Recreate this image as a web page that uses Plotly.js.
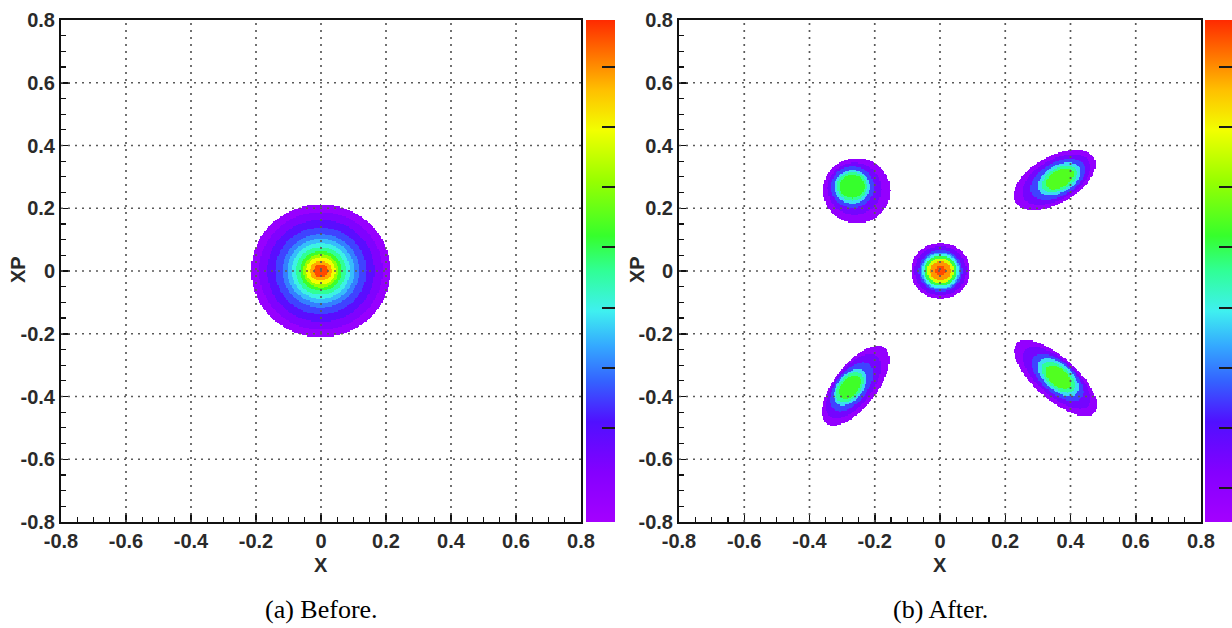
<!DOCTYPE html>
<html><head><meta charset="utf-8">
<script src="https://cdn.plot.ly/plotly-3.0.1.min.js"></script>
<style>html,body{margin:0;padding:0;background:#fff;} #chart{width:1232px;height:628px;}</style>
</head><body><div id="chart"></div>
<script>
// ---------- axis / tick data ----------
const tickValues = [-0.8, -0.6, -0.4, -0.2, 0, 0.2, 0.4, 0.6, 0.8];
const tickLabels = ['-0.8', '-0.6', '-0.4', '-0.2', '0', '0.2', '0.4', '0.6', '0.8'];
const gridValues = [-0.6, -0.4, -0.2, 0, 0.2, 0.4, 0.6];
const colorbarTicksLeft = [0.187, 0.307, 0.427, 0.547, 0.667, 0.787, 0.907];
const colorbarTicksRight = [0.068, 0.187, 0.307, 0.427, 0.547, 0.667, 0.787, 0.907];
const axisTitles = ['X', 'XP'];
const captions = ['(a) Before.', '(b) After.'];

// ---------- density rings (outer -> inner) ----------
// (a) Before: one round beam at the origin
const beforeCx    = [0, 0, 0, 0, 0, 0, 0, 0, 0, 0, 0, 0, 0];
const beforeCy    = [0, 0, 0, 0, 0, 0, 0, 0, 0, 0, 0, 0, 0];
const beforeA     = [0.214, 0.19, 0.165, 0.14, 0.118, 0.103, 0.09, 0.077, 0.064, 0.054, 0.045, 0.033, 0.021];
const beforeB     = [0.212, 0.188, 0.163, 0.138, 0.117, 0.102, 0.089, 0.076, 0.063, 0.053, 0.044, 0.032, 0.02];
const beforeLevel = [0.04, 0.11, 0.18, 0.25, 0.31, 0.37, 0.43, 0.5, 0.58, 0.68, 0.78, 0.88, 0.97];
const beforeAngle = 0;

// (b) After: central core
const coreCx    = [0.002, 0.002, 0.002, 0.002, 0.002, 0.002, 0.002, 0.002, 0.002];
const coreCy    = [0, 0, 0, 0, 0, 0, 0, 0, 0];
const coreA     = [0.09, 0.079, 0.067, 0.061, 0.056, 0.049, 0.041, 0.031, 0.016];
const coreB     = [0.089, 0.078, 0.066, 0.06, 0.055, 0.048, 0.04, 0.03, 0.016];
const coreLevel = [0.05, 0.14, 0.25, 0.34, 0.42, 0.55, 0.75, 0.9, 0.97];
const coreAngle = 0;

// (b) After: upper-left island
const ulCx    = [-0.255, -0.262, -0.268, -0.269, -0.269, -0.269];
const ulCy    = [0.256, 0.262, 0.267, 0.268, 0.269, 0.269];
const ulA     = [0.103, 0.082, 0.066, 0.054, 0.046, 0.038];
const ulB     = [0.104, 0.083, 0.066, 0.053, 0.045, 0.037];
const ulLevel = [0.05, 0.13, 0.25, 0.4, 0.5, 0.57];
const ulAngle = 10;

// (b) After: lower-left island
const llCx    = [-0.258, -0.265, -0.271, -0.275, -0.276, -0.276];
const llCy    = [-0.366, -0.368, -0.37, -0.371, -0.371, -0.371];
const llA     = [0.15, 0.12, 0.09, 0.066, 0.055, 0.043];
const llB     = [0.066, 0.057, 0.048, 0.039, 0.033, 0.026];
const llLevel = [0.05, 0.13, 0.25, 0.4, 0.5, 0.58];
const llAngle = 54;

// (b) After: upper-right island
const urCx    = [0.352, 0.357, 0.362, 0.366, 0.367, 0.368];
const urCy    = [0.29, 0.291, 0.292, 0.293, 0.293, 0.293];
const urA     = [0.14, 0.116, 0.092, 0.072, 0.059, 0.047];
const urB     = [0.074, 0.063, 0.053, 0.043, 0.035, 0.027];
const urLevel = [0.05, 0.13, 0.25, 0.4, 0.5, 0.6];
const urAngle = 31;

// (b) After: lower-right island
const lrCx    = [0.355, 0.358, 0.361, 0.363, 0.363, 0.363];
const lrCy    = [-0.342, -0.341, -0.34, -0.339, -0.339, -0.339];
const lrA     = [0.163, 0.132, 0.098, 0.077, 0.062, 0.047];
const lrB     = [0.066, 0.057, 0.049, 0.041, 0.034, 0.027];
const lrLevel = [0.05, 0.13, 0.25, 0.4, 0.5, 0.6];
const lrAngle = -43;

// ---------- palette (ROOT-like rainbow) ----------
const palette = [
  [0.00, '#a400ff'], [0.10, '#8400ff'], [0.20, '#5010ff'], [0.28, '#3462ff'],
  [0.35, '#34a8ff'], [0.42, '#3ff0f0'], [0.50, '#30ff96'], [0.57, '#36ff2c'],
  [0.68, '#98ff00'], [0.78, '#f2ff00'], [0.86, '#ffc000'], [0.93, '#ff7400'],
  [1.00, '#ff2a00']
];

// ---------- build the density tables ----------
function mkBlob(cx, cy, a, b, lev, ang) { return {cx, cy, a, b, lev, ang: ang * Math.PI / 180}; }
const beforeBlobs = [mkBlob(beforeCx, beforeCy, beforeA, beforeB, beforeLevel, beforeAngle)];
const afterBlobs = [
  mkBlob(coreCx, coreCy, coreA, coreB, coreLevel, coreAngle),
  mkBlob(ulCx, ulCy, ulA, ulB, ulLevel, ulAngle),
  mkBlob(llCx, llCy, llA, llB, llLevel, llAngle),
  mkBlob(urCx, urCy, urA, urB, urLevel, urAngle),
  mkBlob(lrCx, lrCy, lrA, lrB, lrLevel, lrAngle)
];
const cellSize = 0.004;
const axisCells = [];
for (let i = 0; i <= 400; i++) axisCells.push(-0.8 + i * cellSize);

function table(blobs) {
  const z = [];
  for (const y of axisCells) {
    const row = [];
    for (const x of axisCells) {
      let best = null;
      for (const bl of blobs) {
        const c = Math.cos(bl.ang), s = Math.sin(bl.ang);
        for (let k = 0; k < bl.a.length; k++) {
          const dx = x - bl.cx[k], dy = y - bl.cy[k];
          const u = dx * c + dy * s, v = -dx * s + dy * c;
          if ((u * u) / (bl.a[k] * bl.a[k]) + (v * v) / (bl.b[k] * bl.b[k]) <= 1) {
            if (best === null || bl.lev[k] > best) best = bl.lev[k];
          }
        }
      }
      row.push(best);
    }
    z.push(row);
  }
  return z;
}

const traces = [
  {type: 'heatmap', x: axisCells, y: axisCells, z: table(beforeBlobs), coloraxis: 'coloraxis',
   zsmooth: false, hoverinfo: 'skip', xaxis: 'x', yaxis: 'y'},
  {type: 'heatmap', x: axisCells, y: axisCells, z: table(afterBlobs), coloraxis: 'coloraxis2',
   zsmooth: false, hoverinfo: 'skip', xaxis: 'x2', yaxis: 'y2'}
];

// ---------- layout ----------
const W = 1232, H = 628;
const yDom = [(H - 522) / H, (H - 20) / H];
const leftDom = [61 / W, 581 / W];
const rightDom = [679 / W, 1201 / W];
const tickFont = {family: 'Liberation Sans, Arial, sans-serif', size: 20, color: '#2a2a2a'};
const boldTicks = tickLabels.map(t => '<b>' + t + '</b>');

function axis(dom, anchor) {
  return {
    domain: dom, anchor: anchor, range: [-0.8, 0.8], autorange: false,
    tickmode: 'array', tickvals: tickValues, ticktext: boldTicks,
    ticks: 'inside', ticklen: 9, tickwidth: 1.5, tickcolor: '#111',
    minor: {ticks: 'inside', ticklen: 5, tickwidth: 1.2, tickcolor: '#111', dtick: 0.05, tick0: 0, showgrid: false},
    showline: true, linecolor: '#111', linewidth: 2, mirror: true,
    showgrid: false, zeroline: false, layer: 'above traces',
    tickfont: tickFont, fixedrange: true, automargin: false
  };
}

function colorbar(x, thick, tv) {
  return {
    x: x, xanchor: 'left', xref: 'paper', y: yDom[0], yanchor: 'bottom', yref: 'paper',
    len: yDom[1] - yDom[0], lenmode: 'fraction', thickness: thick, thicknessmode: 'pixels',
    xpad: 0, ypad: 0, outlinewidth: 0, ticks: 'inside', ticklen: 13, tickwidth: 2,
    tickcolor: '#1a1a1a', tickmode: 'array', tickvals: tv, showticklabels: false
  };
}

const shapes = [];
[['x', 'y'], ['x2', 'y2']].forEach(([xr, yr]) => {
  gridValues.forEach(g => {
    shapes.push({type: 'line', xref: xr, yref: yr, x0: g, x1: g, y0: -0.8, y1: 0.8, layer: 'above',
      line: {color: '#5a5a5a', width: 1.7, dash: '2px,5px'}});
    shapes.push({type: 'line', xref: xr, yref: yr, x0: -0.8, x1: 0.8, y0: g, y1: g, layer: 'above',
      line: {color: '#5a5a5a', width: 1.7, dash: '2px,5px'}});
  });
});

const titleFont = {family: 'Liberation Sans, Arial, sans-serif', size: 20, color: '#2a2a2a'};
const capFont = {family: 'Liberation Serif, Times New Roman, serif', size: 26, color: '#000'};
function bold(t) { return '<b>' + t + '</b>'; }
const annotations = [
  {text: bold(axisTitles[0]), xref: 'paper', yref: 'paper', x: 321 / W, y: (H - 565) / H, showarrow: false, font: titleFont, xanchor: 'center', yanchor: 'middle'},
  {text: bold(axisTitles[0]), xref: 'paper', yref: 'paper', x: 940 / W, y: (H - 565) / H, showarrow: false, font: titleFont, xanchor: 'center', yanchor: 'middle'},
  {text: bold(axisTitles[1]), xref: 'paper', yref: 'paper', x: 18 / W, y: (H - 270) / H, textangle: -90, showarrow: false, font: titleFont, xanchor: 'center', yanchor: 'middle'},
  {text: bold(axisTitles[1]), xref: 'paper', yref: 'paper', x: 637 / W, y: (H - 270) / H, textangle: -90, showarrow: false, font: titleFont, xanchor: 'center', yanchor: 'middle'},
  {text: captions[0], xref: 'paper', yref: 'paper', x: 321 / W, y: (H - 609) / H, showarrow: false, font: capFont, xanchor: 'center', yanchor: 'middle'},
  {text: captions[1], xref: 'paper', yref: 'paper', x: 940 / W, y: (H - 609) / H, showarrow: false, font: capFont, xanchor: 'center', yanchor: 'middle'}
];

const layout = {
  width: W, height: H, margin: {l: 0, r: 0, t: 0, b: 0, autoexpand: false},
  paper_bgcolor: '#fff', plot_bgcolor: '#fff', showlegend: false,
  xaxis: axis(leftDom, 'y'), yaxis: axis(yDom, 'x'),
  xaxis2: axis(rightDom, 'y2'), yaxis2: axis(yDom, 'x2'),
  coloraxis: {colorscale: palette, cmin: 0, cmax: 1, colorbar: colorbar(586 / W, 29, colorbarTicksLeft)},
  coloraxis2: {colorscale: palette, cmin: 0, cmax: 1, colorbar: colorbar(1205 / W, 27, colorbarTicksRight)},
  shapes: shapes, annotations: annotations
};

Plotly.newPlot('chart', traces, layout, {displayModeBar: false, staticPlot: true});
</script>
</body></html>
